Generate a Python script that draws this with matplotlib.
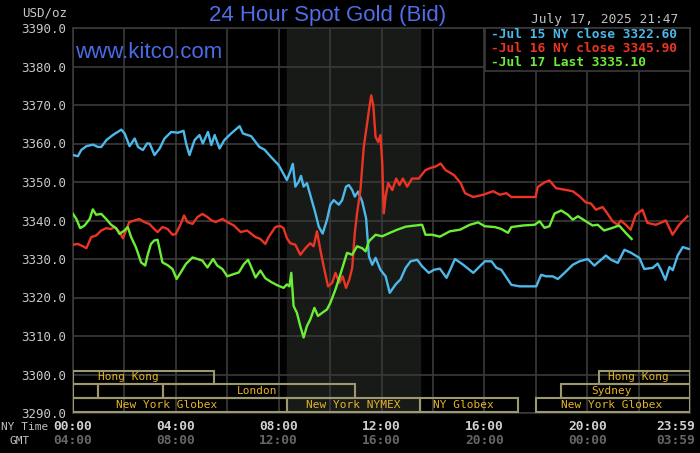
import numpy as np
import matplotlib
matplotlib.use("Agg")
import matplotlib.pyplot as plt
import matplotlib.transforms as mtransforms
from matplotlib.patches import Rectangle

# ---- data (NY time in hours, price in USD/oz) ----
blue_t = [0.0, 0.19, 0.32, 0.52, 0.78, 0.97, 1.10, 1.30, 1.55, 1.88, 2.01, 2.20, 2.40, 2.53, 2.72, 2.88,
          2.98, 3.17, 3.37, 3.56, 3.82, 4.08, 4.30, 4.40, 4.53, 4.73, 4.92, 5.05, 5.25, 5.38, 5.51, 5.70,
          5.89, 6.15, 6.48, 6.61, 6.93, 7.25, 7.45, 7.70, 8.0, 8.32, 8.45, 8.55, 8.65, 8.78, 8.87, 8.97,
          9.10, 9.23, 9.43, 9.56, 9.71, 9.88, 10.01, 10.14, 10.34, 10.47, 10.62, 10.73, 10.86, 10.96,
          11.09, 11.25, 11.40, 11.51, 11.64, 11.77, 11.96, 12.16, 12.32, 12.55, 12.74, 12.94, 13.13,
          13.39, 13.58, 13.84, 14.04, 14.27, 14.53, 14.86, 15.18, 15.57, 16.02, 16.28, 16.47, 16.66,
          17.05, 17.37, 18.02, 18.21, 18.40, 18.66, 18.86, 19.12, 19.44, 19.70, 20.02, 20.28, 20.73,
          20.93, 21.19, 21.45, 21.71, 22.03, 22.22, 22.55, 22.74, 22.87, 23.04, 23.20, 23.33, 23.52,
          23.72, 23.95]
blue_v = [3357.0, 3356.7, 3358.3, 3359.3, 3359.7, 3359.1, 3359.1, 3360.9, 3362.2, 3363.6, 3362.6, 3359.3,
          3361.3, 3359.1, 3358.3, 3360.0, 3360.0, 3357.0, 3358.7, 3361.3, 3363.0, 3362.8, 3363.3, 3360.0,
          3357.0, 3360.9, 3362.2, 3360.0, 3363.0, 3359.6, 3362.2, 3358.7, 3360.9, 3362.6, 3364.5, 3362.6,
          3361.9, 3359.1, 3358.4, 3356.5, 3354.4, 3350.5, 3352.7, 3354.7, 3348.8, 3350.1, 3351.6, 3348.8,
          3349.7, 3346.6, 3341.9, 3338.4, 3336.6, 3340.2, 3344.1, 3345.3, 3344.1, 3345.3, 3348.8, 3349.2,
          3347.9, 3346.2, 3347.5, 3344.9, 3340.6, 3330.7, 3328.5, 3330.3, 3327.2, 3325.5, 3321.2, 3323.4,
          3324.7, 3327.7, 3329.4, 3329.8, 3328.1, 3326.4, 3327.2, 3327.5, 3325.1, 3330.0, 3328.5, 3326.4,
          3329.4, 3329.4, 3327.7, 3327.2, 3323.3, 3322.9, 3322.9, 3325.9, 3325.5, 3325.5, 3324.8, 3326.4,
          3328.5, 3329.4, 3330.0, 3328.3, 3330.9, 3329.8, 3329.0, 3332.4, 3331.6, 3330.3, 3327.4, 3327.7,
          3328.8, 3327.2, 3324.6, 3327.9, 3327.1, 3330.9, 3333.1, 3332.6]

red_t = [0.0, 0.19, 0.39, 0.52, 0.71, 0.90, 1.10, 1.29, 1.48, 1.61, 1.81, 1.94, 2.06, 2.19, 2.39, 2.58,
         2.77, 2.97, 3.16, 3.29, 3.48, 3.68, 3.87, 4.0, 4.19, 4.32, 4.45, 4.65, 4.84, 5.03, 5.23, 5.39,
         5.55, 5.81, 6.0, 6.26, 6.52, 6.77, 7.10, 7.29, 7.48, 7.61, 7.87, 8.05, 8.19, 8.32, 8.45, 8.65,
         8.84, 9.04, 9.23, 9.36, 9.49, 9.62, 9.75, 9.92, 10.08, 10.21, 10.36, 10.49, 10.62, 10.75, 10.86,
         10.96, 11.05, 11.18, 11.31, 11.44, 11.53, 11.60, 11.68, 11.77, 11.87, 11.96, 12.03, 12.09, 12.16,
         12.26, 12.42, 12.57, 12.70, 12.83, 13.0, 13.19, 13.45, 13.71, 13.97, 14.10, 14.30, 14.49, 14.82,
         15.08, 15.25, 15.57, 15.96, 16.34, 16.60, 16.86, 17.05, 17.99, 18.08, 18.34, 18.53, 18.79, 19.12,
         19.44, 19.70, 19.95, 20.15, 20.34, 20.60, 20.79, 20.99, 21.18, 21.31, 21.50, 21.69, 21.89, 22.15,
         22.34, 22.67, 22.86, 23.06, 23.32, 23.58, 23.90]
red_v = [3333.7, 3333.9, 3333.3, 3332.8, 3335.7, 3336.1, 3337.4, 3338.0, 3337.8, 3338.3, 3337.0, 3335.4,
         3337.4, 3339.6, 3340.0, 3340.4, 3339.6, 3339.1, 3337.8, 3337.0, 3338.3, 3337.8, 3336.3, 3336.5,
         3339.1, 3341.3, 3339.6, 3339.1, 3340.9, 3341.7, 3340.9, 3340.0, 3339.6, 3340.4, 3339.6, 3338.7,
         3337.0, 3337.4, 3335.7, 3335.2, 3333.9, 3335.7, 3338.3, 3338.6, 3338.0, 3335.4, 3334.1, 3333.7,
         3331.1, 3332.8, 3334.1, 3333.3, 3337.2, 3332.4, 3328.1, 3322.9, 3323.8, 3326.4, 3323.8, 3325.5,
         3322.5, 3324.7, 3327.7, 3336.7, 3341.9, 3347.9, 3359.1, 3365.2, 3369.5, 3372.5, 3369.9, 3361.7,
         3360.4, 3362.2, 3354.8, 3341.9, 3346.2, 3349.7, 3347.9, 3350.9, 3349.2, 3350.9, 3348.8, 3350.9,
         3350.9, 3353.1, 3353.8, 3354.0, 3354.8, 3353.1, 3351.8, 3349.7, 3347.1, 3346.1, 3346.7, 3347.6,
         3346.7, 3347.1, 3346.1, 3346.1, 3348.7, 3349.9, 3350.4, 3348.4, 3348.0, 3347.6, 3346.3, 3344.7,
         3344.4, 3342.8, 3343.5, 3341.8, 3339.8, 3338.9, 3340.0, 3338.9, 3337.6, 3341.5, 3342.8, 3339.4,
         3338.9, 3339.4, 3340.0, 3336.3, 3338.9, 3341.1]

green_t = [0.0, 0.13, 0.28, 0.45, 0.65, 0.77, 0.90, 1.10, 1.29, 1.48, 1.68, 1.81, 2.0, 2.13, 2.26, 2.45,
           2.65, 2.81, 2.90, 3.03, 3.16, 3.29, 3.38, 3.48, 3.68, 3.87, 4.03, 4.19, 4.39, 4.65, 4.84, 5.03,
           5.23, 5.45, 5.61, 5.81, 6.0, 6.26, 6.45, 6.65, 6.81, 6.94, 7.10, 7.29, 7.48, 7.74, 7.94, 8.19,
           8.32, 8.42, 8.49, 8.58, 8.71, 8.84, 8.97, 9.10, 9.23, 9.39, 9.53, 9.69, 9.88, 10.01, 10.21,
           10.40, 10.66, 10.86, 11.05, 11.25, 11.38, 11.51, 11.77, 12.03, 12.29, 12.61, 12.94, 13.19,
           13.58, 13.71, 13.97, 14.27, 14.66, 15.05, 15.44, 15.76, 16.02, 16.41, 16.66, 16.92, 17.05,
           17.50, 17.96, 18.15, 18.34, 18.53, 18.73, 18.99, 19.25, 19.44, 19.64, 19.95, 20.21, 20.41,
           20.66, 20.99, 21.24, 21.50, 21.73]
green_v = [3341.7, 3340.4, 3338.0, 3338.7, 3340.4, 3342.9, 3341.5, 3341.7, 3340.4, 3338.9, 3338.0, 3336.5,
           3337.4, 3338.3, 3335.7, 3333.0, 3329.1, 3328.3, 3330.9, 3333.9, 3334.8, 3335.0, 3332.2, 3329.1,
           3328.4, 3327.4, 3324.8, 3326.5, 3328.7, 3330.4, 3330.0, 3329.6, 3327.8, 3330.0, 3328.3, 3327.4,
           3325.5, 3326.1, 3326.5, 3328.7, 3329.8, 3327.8, 3325.2, 3327.0, 3325.0, 3323.9, 3323.2, 3322.5,
           3323.4, 3322.9, 3326.4, 3317.8, 3316.0, 3312.6, 3309.6, 3312.6, 3314.3, 3317.3, 3315.2, 3316.0,
           3316.9, 3318.6, 3322.1, 3326.0, 3331.6, 3331.1, 3333.3, 3332.8, 3332.0, 3334.6, 3336.3, 3335.9,
           3336.7, 3337.6, 3338.4, 3338.6, 3338.9, 3336.3, 3336.3, 3335.8, 3337.2, 3337.6, 3338.9, 3339.5,
           3338.5, 3338.3, 3337.8, 3336.8, 3338.3, 3338.7, 3338.9, 3339.8, 3338.1, 3338.5, 3341.8, 3342.6,
           3341.5, 3340.2, 3341.1, 3339.8, 3338.7, 3338.9, 3337.4, 3338.1, 3338.7, 3336.8, 3335.2]

legend_labels = ["-Jul 15 NY close 3322.60", "-Jul 16 NY close 3345.90", "-Jul 17 Last 3335.10"]
ny_labels = ["00:00", "04:00", "08:00", "12:00", "16:00", "20:00", "23:59"]
gmt_labels = ["04:00", "08:00", "12:00", "16:00", "20:00", "00:00", "03:59"]
label_hours = [0, 4, 8, 12, 16, 20, 24]

# market sessions: row, start, end, label, label centre (hours)
sessions = [
    (0, 0.0, 5.5, "Hong Kong", 2.15),
    (0, 20.45, 24.0, "Hong Kong", 22.0),
    (1, 0.0, 0.97, "", 0),
    (1, 0.97, 3.5, "", 0),
    (1, 3.5, 10.97, "London", 7.15),
    (1, 18.97, 24.0, "Sydney", 20.95),
    (2, 0.0, 8.33, "New York Globex", 3.65),
    (2, 8.33, 13.5, "New York NYMEX", 10.9),
    (2, 13.5, 17.3, "NY Globex", 15.17),
    (2, 18.0, 24.0, "New York Globex", 20.95),
]
row_edges = [(3297.5, 3301.0), (3293.9, 3297.5), (3290.3, 3293.9)]

BLUE = "#4db8ea"
RED = "#ec3424"
GREEN = "#6cee36"
mono = "DejaVu Sans Mono"

fig = plt.figure(figsize=(7, 4.53), dpi=100, facecolor="black")
ax = fig.add_axes([73 / 700, 1 - 413 / 453, 617 / 700, 385 / 453])
ax.set_facecolor("black")
ax.set_xlim(0, 24)
ax.set_ylim(3290, 3390)

# NYMEX shaded period
ax.axvspan(8.33, 13.5, color="#171a17", zorder=0)

for h in range(0, 25, 2):
    ax.axvline(h, color="#3a3a3a", lw=1.2, zorder=1)
for v in range(3290, 3391, 10):
    ax.axhline(v, color="#3a3a3a", lw=1.2, zorder=1)

for sp in ax.spines.values():
    sp.set_color("#3a3a3a")
    sp.set_linewidth(1.2)

ax.set_xticks([])
ax.set_yticks(range(3290, 3391, 10))
ax.set_yticklabels(["%.1f" % v for v in range(3290, 3391, 10)], fontfamily=mono,
                   fontsize=9, color="#c8c8c8")
ax.tick_params(axis="y", length=0, pad=5)

# sessions
for row, s, e, lab, c in sessions:
    y0, y1 = row_edges[row]
    ax.add_patch(Rectangle((s, y0), e - s, y1 - y0, fill=False, edgecolor="#9e9870",
                           lw=1.5, zorder=3))
    if lab:
        ax.text(c, (y0 + y1) / 2, lab, ha="center", va="center", fontfamily=mono,
                fontsize=8, color="#e6b428", zorder=4)

ax.plot(blue_t, blue_v, color=BLUE, lw=1.7, zorder=5)
ax.plot(red_t, red_v, color=RED, lw=1.7, zorder=5)
ax.plot(green_t, green_v, color=GREEN, lw=1.7, zorder=6)

# legend box
leg_ax = fig.add_axes([485 / 700, 1 - 71 / 453, 205 / 700, 43 / 453])
leg_ax.set_facecolor("black")
leg_ax.set_xticks([])
leg_ax.set_yticks([])
for sp in leg_ax.spines.values():
    sp.set_color("#3a3a3a")
    sp.set_linewidth(1.2)
for i, (lab, col) in enumerate(zip(legend_labels, [BLUE, RED, GREEN])):
    fig.text(491 / 700, 1 - (35 + 14 * i) / 453, lab, color=col, fontfamily=mono,
             fontsize=9.3, fontweight="bold", va="center", ha="left")

# x labels
trans = mtransforms.blended_transform_factory(ax.transData, fig.transFigure)
for h, ny, gmt in zip(label_hours, ny_labels, gmt_labels):
    if h == 24:
        # last label sits flush against the right edge
        kw = dict(transform=fig.transFigure, ha="right")
        x = 695 / 700
    else:
        kw = dict(transform=trans, ha="center")
        x = h
    ax.text(x, 1 - 426 / 453, ny, va="center", fontfamily=mono, fontsize=9.3,
            fontweight="bold", color="#d0d0d0", **kw)
    ax.text(x, 1 - 441 / 453, gmt, va="center", fontfamily=mono, fontsize=9.3,
            fontweight="bold", color="#666666", **kw)
fig.text(25 / 700, 1 - 427 / 453, "NY Time", ha="center", va="center", fontfamily=mono,
         fontsize=8, color="#c0c0c0")
fig.text(20 / 700, 1 - 441 / 453, "GMT", ha="center", va="center", fontfamily=mono,
         fontsize=8, color="#c0c0c0")

fig.text(45 / 700, 1 - 13 / 453, "USD/oz", ha="center", va="center", fontfamily=mono,
         fontsize=9, color="#c8c8c8")
fig.text(328 / 700, 1 - 15 / 453, "24 Hour Spot Gold (Bid)", ha="center", va="center",
         fontfamily="Liberation Sans", fontsize=16, color="#4f6ee8")
fig.text(149 / 700, 1 - 52 / 453, "www.kitco.com", ha="center", va="center",
         fontfamily="Liberation Sans", fontsize=16, color="#4a6ae6", zorder=10)
fig.text(678 / 700, 1 - 20 / 453, "July 17, 2025 21:47", ha="right", va="center",
         fontfamily=mono, fontsize=9.3, color="#c0c0c0")

fig.savefig("out.png", dpi=100, facecolor="black")
